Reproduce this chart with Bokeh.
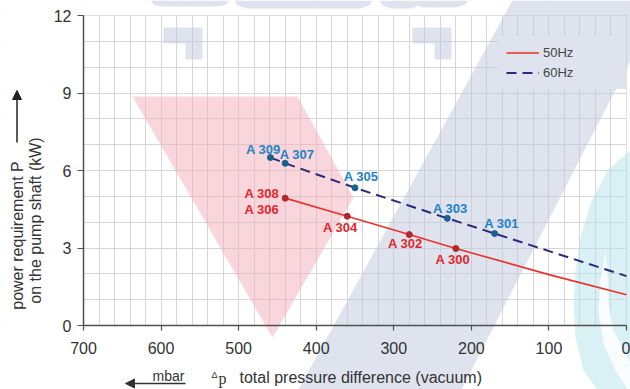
import math
from bokeh.plotting import figure
from bokeh.models import (Range1d, FixedTicker, Legend, LegendItem, Label,
                          PolyAnnotation, BoxAnnotation, ColumnDataSource,
                          Arrow, NormalHead)
from bokeh.core.properties import value
from bokeh.embed import file_html
from bokeh.resources import INLINE

# ---------------- data ----------------
x_ticks = [700, 600, 500, 400, 300, 200, 100, 0]
x_minor = [0, 20, 40, 60, 80, 100, 120, 140, 160, 180, 200, 220, 240, 260, 280,
           300, 320, 340, 360, 380, 400, 420, 440, 460, 480, 500, 520, 540, 560,
           580, 600, 620, 640, 660, 680, 700]
y_ticks = [0, 3, 6, 9, 12]
y_minor = [0, 1, 2, 3, 4, 5, 6, 7, 8, 9, 10, 11, 12]

# 50 Hz pumps
dp_50 = [440, 360, 280, 220]
p_50 = [4.93, 4.23, 3.52, 2.98]
lab_50 = ["A 308\nA 306", "A 304", "A 302", "A 300"]
curve50_x = [440, 360, 280, 220, 100, 0]
curve50_y = [4.93, 4.23, 3.52, 2.98, 1.97, 1.19]

# 60 Hz pumps
dp_60 = [459, 440, 350, 231, 170]
p_60 = [6.50, 6.28, 5.33, 4.15, 3.56]
lab_60 = ["A 309", "A 307", "A 305", "A 303", "A 301"]
curve60_x = [459, 440, 350, 231, 170, 0]
curve60_y = [6.50, 6.28, 5.33, 4.15, 3.56, 1.91]

# label placement (pixels)
lab50_dx = [-6, -7, -4, -3]
lab50_dy = [3.5, 11, 9, 11]
lab50_align = ["right", "center", "center", "center"]
lab60_dx = [-7, 12, 6, 3, 7]
lab60_dy = [-8, -9, -11, -10, -10]

FONT = "Liberation Sans"
RED = "#e8322b"
NAVY = "#2b2a7a"
LBL_RED = "#e0282e"
LBL_BLUE = "#1e82c4"

# Data area: x 700..0 spans page px 83..626, y 0..12 spans page px 325..15.
# The frame covers the whole canvas; axes are pinned to x=700 / y=0.
W, H = 630, 389
XL, XR, YT, YB = 83, 626, 15, 325
kx = (XR - XL) / 700.0
ky = (YB - YT) / 12.0
x_rng = Range1d(700 + XL / kx, 0 - (W - XR) / kx)
y_rng = Range1d(0 - (H - YB) / ky, 12 + YT / ky)

p = figure(width=W, height=H, output_backend="svg", toolbar_location=None,
           x_range=x_rng, y_range=y_rng,
           min_border_left=0, min_border_right=0, min_border_top=0,
           min_border_bottom=0)
p.background_fill_color = "white"
p.border_fill_color = "white"
p.outline_line_color = None

# ---------------- axes & grid ----------------
p.xaxis.ticker = FixedTicker(ticks=x_ticks, minor_ticks=x_minor)
p.yaxis.ticker = FixedTicker(ticks=y_ticks, minor_ticks=y_minor)
p.xaxis.fixed_location = 0
p.yaxis.fixed_location = 700
p.xaxis.bounds = (0, 700)
p.yaxis.bounds = (0, 12)
for ax in (p.xaxis[0], p.yaxis[0]):
    ax.axis_line_color = "#505050"
    ax.axis_line_width = 1.5
    ax.major_tick_line_color = "#505050"
    ax.major_tick_line_width = 1.2
    ax.major_tick_in = 0
    ax.minor_tick_line_color = None
    ax.major_label_text_font = FONT
    ax.major_label_text_font_size = "16px"
    ax.major_label_text_color = "#333333"
p.xaxis.major_tick_out = 5
p.xaxis.major_label_standoff = 11
p.yaxis.major_tick_out = 6
p.yaxis.major_label_standoff = 6

for g in (p.xgrid[0], p.ygrid[0]):
    g.grid_line_color = "#d6d6d6"
    g.grid_line_width = 1
    g.minor_grid_line_color = "#d6d6d6"
    g.minor_grid_line_width = 1

# white covers so the grid only shows inside the data area
for kw in (dict(right=700), dict(left=0), dict(top=0), dict(bottom=12)):
    p.add_layout(BoxAnnotation(fill_color="white", fill_alpha=1,
                               line_alpha=0, level="underlay", **kw))

# ---------------- decorative watermark (screen px, origin bottom-left) -----
def sc(pts):
    return [a for a, b in pts], [H - b for a, b in pts]

BAND_SOLID = "#dfe3ee"
band_c = "#bfc7dd"
decor = [
    ([(298, 389), (512, 0), (661, 0), (461, 389)], band_c, 0.5),
    ([(132, 96), (297, 96), (353, 197), (272, 337)], "#f3adb9", 0.5),
    ([(163, 27), (202, 27), (202, 59), (185, 59), (185, 43), (163, 43)], band_c, 0.5),
    ([(412, 27), (451, 27), (451, 59), (434, 59), (434, 43), (412, 43)], band_c, 0.5),
    ([(150, 0), (229, 0), (226, 4), (218, 6), (160, 6), (153, 4)], band_c, 0.5),
    ([(234, 0), (372, 0), (369, 5), (360, 8), (246, 8), (237, 5)], band_c, 0.5),
    ([(379, 0), (468, 0), (465, 4), (455, 7), (422, 7), (417, 5), (412, 8),
      (390, 8), (382, 5)], band_c, 0.5),
    ([(630, 150), (618, 160), (607, 170), (590, 203), (580, 237), (575, 270),
      (573, 303), (575, 337), (583, 370), (597, 389), (630, 389)],
     "#b4e4ea", 0.5),
]
for pts, col, a in decor:
    xs, ys = sc(pts)
    p.add_layout(PolyAnnotation(xs=xs, ys=ys, xs_units="screen",
                                ys_units="screen", fill_color=col,
                                fill_alpha=a, line_alpha=0, level="underlay"))
xs, ys = sc([(605, 250), (600, 280), (598, 310), (603, 343), (615, 370),
             (627, 389), (630, 389), (630, 362), (627, 357), (613, 330),
             (608, 303), (607, 270)])
p.add_layout(PolyAnnotation(xs=xs, ys=ys, xs_units="screen", ys_units="screen",
                            fill_color="white", fill_alpha=0.8, line_alpha=0,
                            level="underlay"))

# frame border of the data area
p.add_layout(BoxAnnotation(left=700, right=0, bottom=0, top=12, fill_alpha=0,
                           line_color="#c4c4c4", line_width=1,
                           level="underlay"))

# ---------------- curves ----------------
r50 = p.line(curve50_x, curve50_y, line_color=RED, line_width=1.6)
r60 = p.line(curve60_x, curve60_y, line_color=NAVY, line_width=2,
             line_dash="10 6")

s50 = ColumnDataSource(dict(x=dp_50, y=p_50, t=lab_50, dx=lab50_dx,
                            dy=lab50_dy, al=lab50_align))
s60 = ColumnDataSource(dict(x=dp_60, y=p_60, t=lab_60, dx=lab60_dx,
                            dy=lab60_dy))
p.scatter("x", "y", source=s50, size=6, fill_color="#b5262b",
          line_color="#b5262b")
p.scatter("x", "y", source=s60, size=6, fill_color="#1a5f8f",
          line_color="#1a5f8f")
p.text("x", "y", text="t", source=s50, x_offset="dx", y_offset="dy",
       text_align="al", text_baseline="middle", text_font=value(FONT),
       text_font_style="bold", text_font_size="13px", text_color=LBL_RED,
       text_line_height=1.08)
p.text("x", "y", text="t", source=s60, x_offset="dx", y_offset="dy",
       text_align="center", text_baseline="middle", text_font=value(FONT),
       text_font_style="bold", text_font_size="13px", text_color=LBL_BLUE)

# ---------------- legend ----------------
legend = Legend(items=[LegendItem(label="50Hz", renderers=[r50]),
                       LegendItem(label="60Hz", renderers=[r60])],
                location=(498, 300), glyph_width=33, glyph_height=17,
                label_height=17, label_width=75, spacing=3, padding=8,
                label_standoff=4,
                label_text_font=FONT, label_text_font_size="13px",
                label_text_color="#444444", background_fill_color=BAND_SOLID,
                background_fill_alpha=1, border_line_alpha=0, margin=0)
p.add_layout(legend)

# ---------------- axis titles ----------------
txt = dict(x_units="screen", y_units="screen", text_font=FONT,
           text_color="#333333", text_baseline="middle")
p.add_layout(Label(x=239, y=H - 377, text="total pressure difference (vacuum)",
                   text_font_size="16px", text_align="left", **txt))
p.add_layout(Label(x=218, y=H - 378, text="p", text_font_size="16px",
                   text_align="left",
                   **{**txt, "text_font": "Liberation Serif"}))
p.add_layout(Label(x=211, y=H - 374, text="Δ", text_font_size="9px",
                   text_align="left", **txt))
p.add_layout(Label(x=152, y=H - 375, text="mbar", text_font_size="14px",
                   text_align="left", **txt))
p.add_layout(Arrow(x_start=185, y_start=H - 383, x_end=125, y_end=H - 383,
                   start_units="screen", end_units="screen",
                   line_color="#333333", line_width=1.5,
                   end=NormalHead(size=9, fill_color="#333333",
                                  line_color="#333333")))
p.add_layout(Label(x=16.5, y=H - 235, text="power requirement P",
                   angle=math.pi / 2, text_font_size="16px",
                   text_align="center", **txt))
p.add_layout(Label(x=35, y=H - 220, text="on the pump shaft (kW)",
                   angle=math.pi / 2, text_font_size="16px",
                   text_align="center", **txt))
p.add_layout(Arrow(x_start=16.5, y_start=H - 142, x_end=16.5, y_end=H - 90,
                   start_units="screen", end_units="screen",
                   line_color="#222222", line_width=1.5,
                   end=NormalHead(size=9, fill_color="#222222",
                                  line_color="#222222")))

open("out.html", "w").write(file_html(p, INLINE))
